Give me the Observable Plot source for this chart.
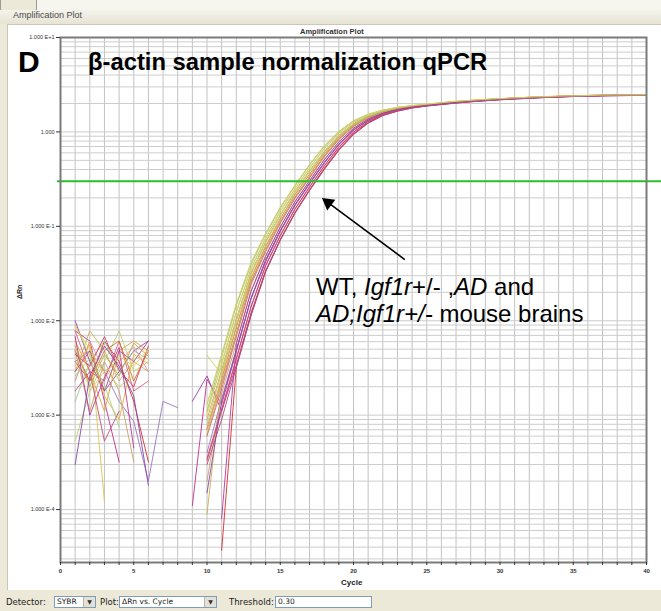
<!DOCTYPE html>
<html>
<head>
<meta charset="utf-8">
<script src="https://cdn.jsdelivr.net/npm/d3@7"></script>
<script src="https://cdn.jsdelivr.net/npm/@observablehq/plot@0.6"></script>
<style>
  html, body { margin: 0; padding: 0; background: #ECE9D8; }
  #wrap { position: relative; width: 661px; height: 611px; overflow: hidden; background: #ECE9D8; font-family: "Liberation Sans", Arial, sans-serif; }
  .abs { position: absolute; white-space: nowrap; line-height: 1; }
  #topstrip { position: absolute; left: 0; top: 0; width: 661px; height: 10px; background: #F6F5EE; }
  #btn { position: absolute; left: 0; top: -2px; width: 35px; height: 11px; background: #ECE9D8; border: 1px solid #9A9A90; border-radius: 2px; }
  #hdr { position: absolute; left: 0; top: 10px; width: 661px; height: 14px; background: linear-gradient(#F4F3EC, #E7E4D4); }
  #panel { position: absolute; left: 7px; top: 24px; width: 654px; height: 566px; background: #FFFFFF; border-left: 1px solid #C9C7BA; border-top: 1px solid #C9C7BA; box-sizing: border-box; }
  #chart { position: absolute; left: 0; top: 0; }
  .tb { font-family: "DejaVu Sans", sans-serif; font-size: 8.5px; color: #222; }
  .box { position: absolute; top: 596px; height: 12px; background: #fff; border: 1px solid #7F9DB9; box-sizing: border-box; font-family: "DejaVu Sans", sans-serif; font-size: 7.5px; line-height: 10px; padding-left: 2px; color: #222; }
  .dd { position: absolute; right: 0; top: 0; width: 11px; height: 10px; background: #E3E1D6; border-left: 1px solid #B8B6AA; font-size: 6px; text-align: center; line-height: 10px; color: #333; }
</style>
</head>
<body>
<div id="wrap">
  <div id="topstrip"></div>
  <div id="btn"></div>
  <div id="hdr"></div>
  <div class="abs" style="left:13px; top:10.5px; font-size:9px; color:#4a4a4a;">Amplification Plot</div>
  <div id="panel"></div>
  <div id="chart"></div>
  <div class="abs" style="left:300px; top:27.5px; font-size:7.5px; font-weight:bold; color:#333;">Amplification Plot</div>
  <div class="abs" style="left:18px; top:47px; font-size:30px; font-weight:bold; color:#000;">D</div>
  <div class="abs" style="left:88px; top:49.9px; font-size:23.8px; font-weight:bold; color:#000;">β-actin sample normalization qPCR</div>
  <div class="abs" style="left:316px; top:274.7px; font-size:24px; color:#000;">WT, <i>Igf1r</i>+/- ,<i>AD</i> and</div>
  <div class="abs" style="left:316px; top:301.7px; font-size:24px; color:#000;"><i>AD;Igf1r+/-</i> mouse brains</div>
  <div class="abs" style="left:16px; top:299px; font-size:7px; font-weight:bold; color:#222; transform: rotate(-90deg); transform-origin: 0 0;">ΔRn</div>
  <div class="abs" style="left:341px; top:579px; font-size:8px; font-weight:bold; color:#222;">Cycle</div>
  <div class="abs tb" style="left:6px; top:598px;">Detector:</div>
  <div class="box" style="left:54px; width:42px;">SYBR<div class="dd">▼</div></div>
  <div class="abs tb" style="left:100px; top:598px;">Plot:</div>
  <div class="box" style="left:119px; width:98px;">ΔRn vs. Cycle<div class="dd">▼</div></div>
  <div class="abs tb" style="left:229px; top:598px;">Threshold:</div>
  <div class="box" style="left:275px; width:97px;">0.30</div>
</div>
<script>
// ---------------- data ----------------
const cycles = d3.range(1, 41); // cycle numbers 1..40
const threshold = 0.30;

// Delta Rn per cycle (index 0 = cycle 1); null = not drawn (negative/undefined)
const s1  = [0.0100,0.0037,0.0018,0.0029,0.0048,0.0061,null,null,0.0014,0.0026,0.0011,0.0034,0.012,0.034,0.072,0.138,0.24,0.40,0.64,0.94,1.24,1.49,1.66,1.79,1.88,1.95,2.02,2.08,2.14,2.19,2.23,2.27,2.31,2.34,2.37,2.39,2.41,2.42,2.43,2.44];
const s2  = [0.0078,0.0061,0.0014,0.00032,null,null,null,null,0.00011,0.0024,0.0013,0.0047,0.017,0.042,0.088,0.165,0.28,0.465,0.73,1.04,1.32,1.55,1.71,1.82,1.90,1.97,2.04,2.10,2.15,2.20,2.25,2.29,2.32,2.35,2.38,2.40,2.42,2.43,2.44,2.45];
const s3  = [0.0029,0.0078,0.0048,0.0023,0.0037,0.0029,null,null,null,0.00009,0.0021,0.0071,0.025,0.056,0.11,0.2,0.33,0.55,0.84,1.15,1.43,1.63,1.77,1.87,1.94,2.01,2.08,2.14,2.19,2.24,2.28,2.32,2.35,2.38,2.41,2.43,2.45,2.46,2.47,2.48];
const s4  = [0.0048,0.0023,0.0061,0.0037,0.0014,0.00032,null,null,null,null,0.000037,0.0032,0.0115,0.033,0.072,0.14,0.245,0.41,0.66,0.96,1.26,1.51,1.68,1.81,1.90,1.97,2.04,2.10,2.16,2.21,2.25,2.29,2.33,2.36,2.39,2.41,2.43,2.44,2.45,2.46];
const s5  = [0.0061,0.0029,0.0011,0.0048,0.0061,0.0048,null,null,null,0.0009,0.0030,0.0105,0.032,0.069,0.133,0.235,0.39,0.62,0.92,1.22,1.48,1.66,1.79,1.88,1.95,2.02,2.09,2.15,2.20,2.24,2.28,2.32,2.35,2.38,2.41,2.43,2.44,2.45,2.46,2.47];
const s6  = [0.00053,0.0018,0.0037,0.0078,0.0029,null,null,null,null,0.0013,0.0044,0.015,0.041,0.084,0.158,0.27,0.45,0.71,1.01,1.31,1.54,1.70,1.82,1.90,1.97,2.04,2.11,2.16,2.21,2.25,2.29,2.33,2.36,2.39,2.41,2.43,2.45,2.46,2.47,2.48];
const s7  = [0.0037,0.0048,0.0029,0.0014,0.00086,0.00020,0.0014,0.0012,null,0.0004,0.0015,0.0049,0.017,0.044,0.09,0.168,0.285,0.47,0.74,1.05,1.33,1.56,1.72,1.83,1.91,1.98,2.05,2.11,2.16,2.21,2.26,2.30,2.33,2.36,2.39,2.41,2.43,2.44,2.45,2.46];
const s8  = [0.0023,0.0061,0.00012,null,0.0029,0.0037,null,null,null,0.0043,0.0027,0.0100,0.031,0.067,0.131,0.23,0.38,0.61,0.91,1.21,1.47,1.65,1.78,1.87,1.94,2.01,2.08,2.14,2.19,2.23,2.27,2.31,2.34,2.37,2.40,2.42,2.43,2.44,2.45,2.46];
const s9  = [0.0078,0.0029,0.0023,0.0061,0.0018,0.0023,null,null,null,0.0006,0.0019,0.0068,0.024,0.054,0.108,0.197,0.325,0.545,0.83,1.14,1.41,1.61,1.75,1.85,1.92,1.99,2.06,2.12,2.17,2.22,2.26,2.30,2.33,2.36,2.39,2.41,2.43,2.44,2.45,2.46];
const s10 = [0.0014,0.0037,0.0061,0.0029,0.0048,0.0039,null,null,null,0.0011,0.0041,0.0145,0.039,0.082,0.155,0.268,0.445,0.70,1.0,1.30,1.53,1.69,1.81,1.89,1.96,2.03,2.10,2.15,2.20,2.24,2.28,2.32,2.35,2.38,2.40,2.42,2.44,2.45,2.46,2.46];
const s11 = [0.0048,0.0011,0.0037,0.0018,0.00032,null,null,null,null,0.0002,0.0017,0.0058,0.0207,0.049,0.099,0.183,0.306,0.509,0.788,1.097,1.376,1.588,1.738,1.845,1.919,1.989,2.059,2.12,2.171,2.222,2.263,2.304,2.335,2.365,2.395,2.416,2.436,2.448,2.458,2.468];
const s12 = [0.0029,0.0048,0.0018,0.0048,0.0037,0.0061,null,null,null,0.0003,0.0009,0.0032,0.0112,0.033,0.071,0.137,0.24,0.40,0.64,0.94,1.24,1.49,1.66,1.79,1.88,1.95,2.02,2.09,2.14,2.19,2.23,2.27,2.31,2.34,2.37,2.39,2.41,2.42,2.43,2.44];
const s13 = [0.0061,0.0018,0.0029,null,null,null,null,null,null,0.0010,0.0036,0.0126,0.036,0.076,0.146,0.254,0.42,0.67,0.97,1.27,1.51,1.685,1.81,1.895,1.965,2.035,2.10,2.155,2.205,2.25,2.29,2.33,2.36,2.39,2.415,2.435,2.45,2.46,2.47,2.475];
const s14 = [0.0037,0.0023,0.0048,0.0061,0.0023,0.0048,null,null,null,0.00072,0.0024,0.0085,0.028,0.061,0.12,0.216,0.356,0.586,0.88,1.187,1.448,1.64,1.775,1.87,1.94,2.01,2.08,2.14,2.19,2.236,2.276,2.315,2.345,2.375,2.404,2.423,2.442,2.452,2.462,2.472];
const s15 = [0.0018,0.0029,0.00053,0.0011,null,null,null,null,null,0.00035,0.00116,0.004,0.0141,0.0386,0.0805,0.153,0.263,0.437,0.694,0.998,1.291,1.527,1.696,1.815,1.898,1.968,2.037,2.103,2.156,2.208,2.252,2.292,2.325,2.356,2.385,2.408,2.428,2.442,2.452,2.462];
const s16 = [0.0023,0.0061,0.0029,0.0037,0.0053,0.0029,null,null,null,0.0007,0.0022,0.0074,0.026,0.057,0.113,0.205,0.338,0.56,0.855,1.165,1.435,1.635,1.775,1.875,1.945,2.015,2.085,2.145,2.195,2.245,2.285,2.325,2.355,2.385,2.415,2.435,2.455,2.465,2.475,2.485];
const s17 = [0.0091,0.0042,0.0031,0.0020,0.0026,null,null,null,null,0.0011,0.0034,0.0122,0.035,0.074,0.143,0.249,0.412,0.662,0.965,1.26,1.50,1.675,1.80,1.885,1.955,2.025,2.09,2.15,2.195,2.245,2.285,2.32,2.35,2.38,2.405,2.425,2.44,2.45,2.46,2.465];
const s18 = [0.0033,0.0055,0.0016,0.0009,0.0044,0.0035,null,null,null,0.0007,0.0025,0.0087,0.0285,0.062,0.121,0.218,0.36,0.59,0.885,1.19,1.45,1.645,1.78,1.875,1.945,2.015,2.085,2.145,2.195,2.24,2.28,2.32,2.35,2.38,2.41,2.43,2.445,2.455,2.465,2.475];
const s19 = [0.0068,0.0010,0.0025,0.0052,0.00045,null,null,null,null,null,0.00008,0.0057,0.0203,0.048,0.098,0.181,0.303,0.505,0.782,1.09,1.37,1.583,1.733,1.84,1.915,1.985,2.055,2.115,2.167,2.218,2.26,2.30,2.332,2.362,2.392,2.413,2.433,2.445,2.455,2.465];
const s20 = [0.0044,0.0033,0.0068,0.0030,0.0020,0.0054,null,null,null,0.00033,0.0011,0.0039,0.0138,0.038,0.079,0.151,0.26,0.433,0.69,0.993,1.287,1.523,1.692,1.812,1.895,1.965,2.034,2.10,2.153,2.205,2.25,2.29,2.322,2.353,2.382,2.405,2.425,2.44,2.45,2.46];
const s21 = [0.0026,0.0040,0.0021,0.00075,null,null,null,null,null,0.0008,0.0028,0.0098,0.0315,0.0675,0.131,0.23,0.382,0.615,0.915,1.215,1.475,1.655,1.785,1.875,1.945,2.015,2.085,2.145,2.195,2.235,2.275,2.315,2.345,2.375,2.405,2.425,2.435,2.445,2.455,2.465];
const s22 = [0.0054,0.0020,0.0044,0.0026,0.0058,0.0042,null,null,null,0.00062,0.0021,0.0072,0.0255,0.0555,0.111,0.202,0.333,0.553,0.845,1.155,1.425,1.625,1.765,1.865,1.935,2.005,2.075,2.135,2.185,2.235,2.275,2.315,2.345,2.375,2.405,2.425,2.445,2.455,2.465,2.475];
const s23 = [0.00030,0.0026,0.0054,0.0033,0.0016,0.00018,null,null,null,0.00015,0.0014,0.0049,0.0172,0.0435,0.09,0.169,0.287,0.474,0.745,1.055,1.335,1.565,1.725,1.835,1.915,1.985,2.055,2.115,2.165,2.215,2.265,2.305,2.335,2.365,2.395,2.415,2.435,2.445,2.455,2.465];
const s24 = [0.0085,0.0050,0.0027,0.0042,0.0033,0.0050,null,null,null,0.0013,0.0043,0.0152,0.0405,0.084,0.159,0.272,0.452,0.712,1.012,1.312,1.542,1.702,1.822,1.902,1.972,2.042,2.112,2.162,2.212,2.252,2.292,2.332,2.362,2.392,2.412,2.432,2.452,2.462,2.472,2.478];

const sampleSeries = [s1, s2, s3, s4, s5, s6, s7, s8, s9, s10, s11, s12, s13, s14, s15, s16, s17, s18, s19, s20, s21, s22, s23, s24];
const sampleColors = ["#A03CB4","#C0308C","#C8B050","#D43030","#E0A040","#B8D070","#9878C0","#D8C850",
                      "#E06080","#98C888","#C8A070","#B04878","#E8D070","#D07030","#C05080","#E890A8",
                      "#C0D060","#E8B040","#B83898","#D84060","#A8D088","#B8A848","#8848A8","#E0D060"];

// axis ticks and labels
const xTickValues = [0, 5, 10, 15, 20, 25, 30, 35, 40];
const yTickValues = [10, 1, 0.1, 0.01, 0.001, 0.0001];
const yTickLabels = ["1.000 E+1", "1.000", "1.000 E-1", "1.000 E-2", "1.000 E-3", "1.000 E-4"];

// annotation arrow (cycle, ΔRn)
const arrowTail = {cycle: 23.5, value: 0.0445};
const arrowHead = {cycle: 18.27, value: 0.178};

// ---------------- build table ----------------
const rows = sampleSeries.flatMap((vals, i) =>
  vals.map((v, j) => ({cycle: cycles[j], value: v, sample: i, color: sampleColors[i]})));

const yDomain = [2.75e-5, 10];
const minorTicks = d3.scaleLog().domain(yDomain).ticks();
const gridCycles = d3.range(0, 41);

const chart = Plot.plot({
  width: 661,
  height: 611,
  marginLeft: 60,
  marginRight: 15,
  marginTop: 37,
  marginBottom: 49,
  style: {background: "transparent", fontFamily: "Liberation Sans, Arial, sans-serif", color: "#333"},
  x: {domain: [0, 40]},
  y: {type: "log", domain: yDomain},
  color: {type: "identity"},
  marks: [
    Plot.ruleX(gridCycles, {stroke: "#C2C2C2", strokeWidth: 1}),
    Plot.ruleY(minorTicks, {stroke: "#CDCDCD", strokeWidth: 1}),
    Plot.line(rows, {x: "cycle", y: "value", z: "sample", stroke: "color", strokeWidth: 1, strokeOpacity: 0.9}),
    Plot.ruleY([threshold], {stroke: "#2DBE2D", strokeWidth: 2, insetLeft: -3, insetRight: -15}),
    Plot.frame({stroke: "#7A7A7A", strokeWidth: 2}),
    Plot.axisX({ticks: gridCycles, tickSize: 3, tickPadding: 3, fontSize: 6, fontWeight: "bold",
      tickFormat: d => xTickValues.includes(d) ? String(d) : "", label: null}),
    Plot.axisY({ticks: yTickValues, tickSize: 4, tickPadding: 2, fontSize: 5.5,
      tickFormat: d => yTickLabels[yTickValues.indexOf(d)], label: null}),
    Plot.link([arrowTail], {x1: "cycle", y1: "value", x2: () => arrowHead.cycle, y2: () => arrowHead.value,
      stroke: "#000", strokeWidth: 1.6}),
    Plot.dot([arrowHead], {x: "cycle", y: "value", symbol: "triangle", r: 5, fill: "#000", stroke: "none", rotate: -53})
  ]
});
document.getElementById("chart").appendChild(chart);
</script>
</body>
</html>
